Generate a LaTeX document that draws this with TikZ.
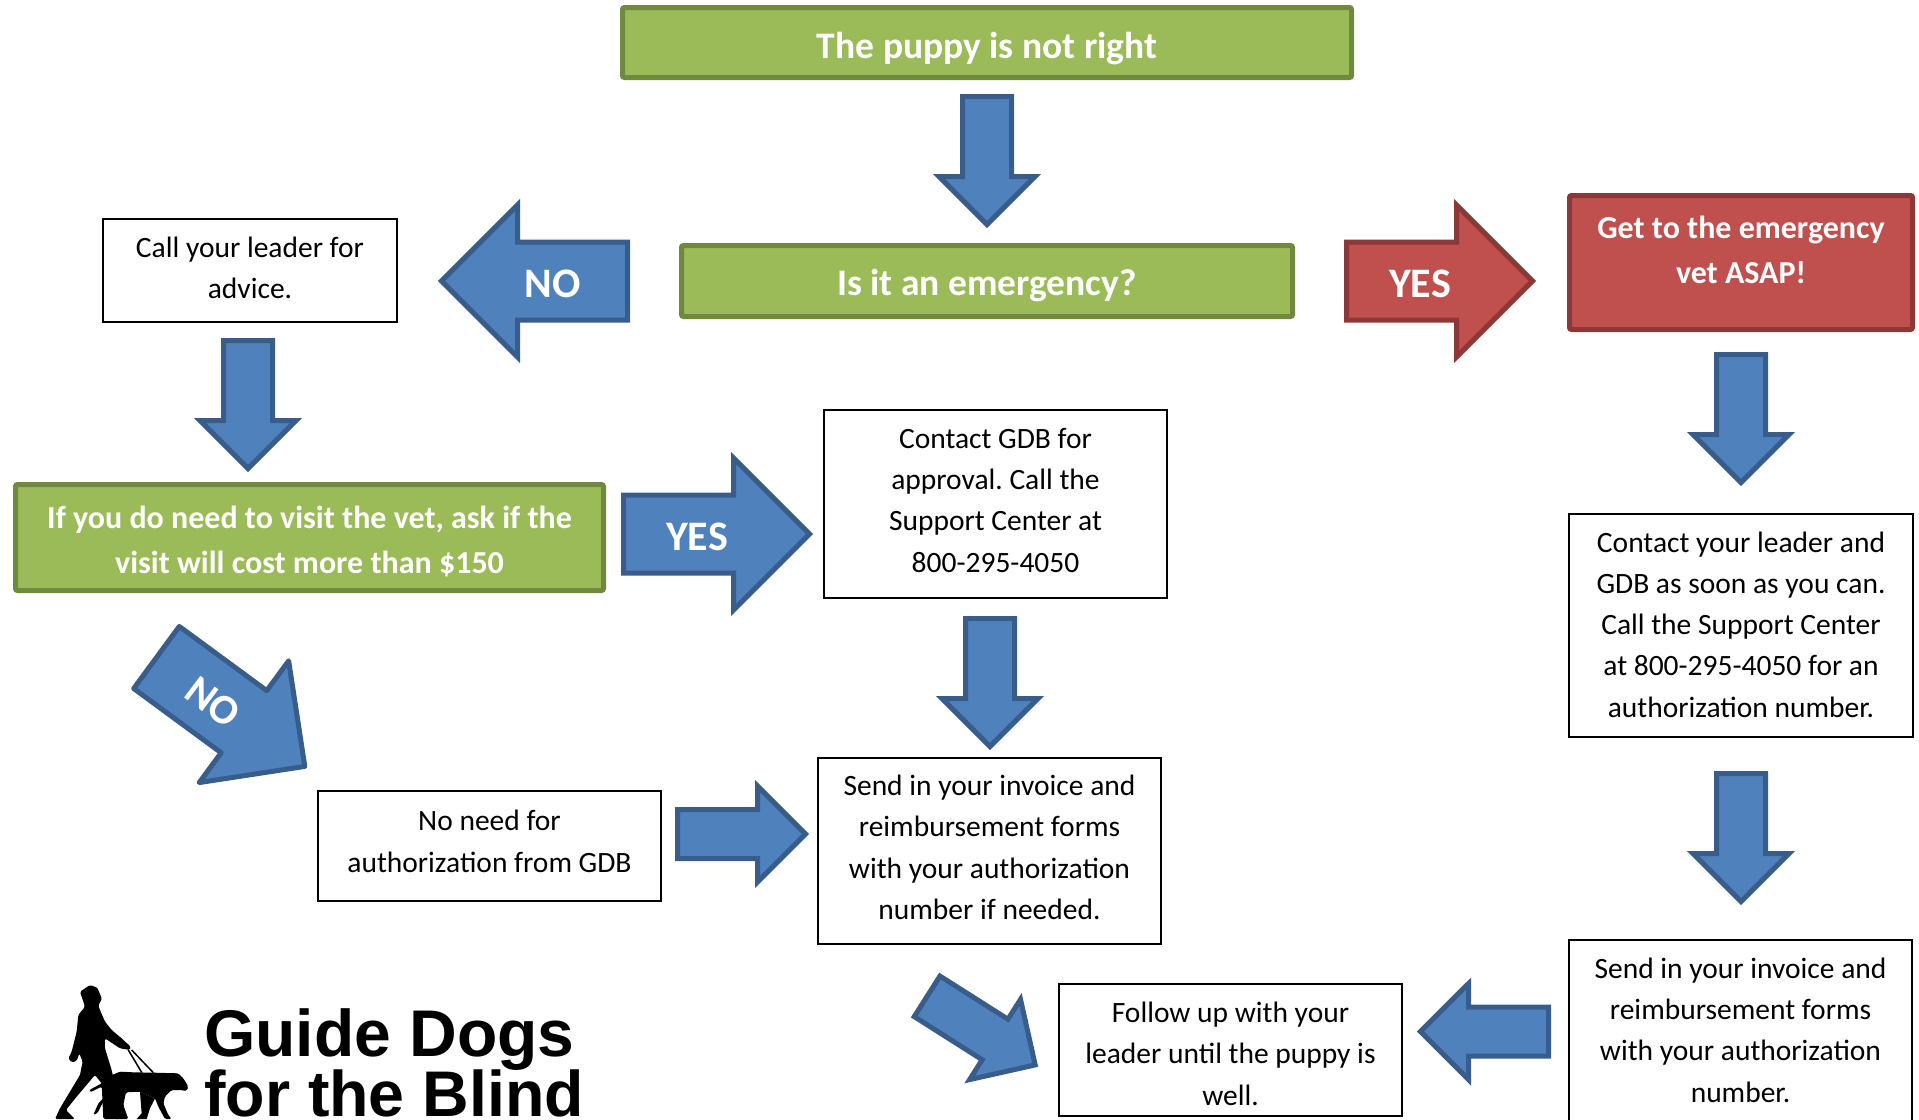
\documentclass[tikz,border=0pt]{standalone}
\usepackage{fontspec}
\setmainfont{Carlito}
\newfontfamily\logofont{Liberation Sans}
\usetikzlibrary{positioning, shapes.arrows}

\definecolor{bluefill}{HTML}{4F81BD}
\definecolor{blueline}{HTML}{385D8A}
\definecolor{greenfill}{HTML}{9BBB59}
\definecolor{greenline}{HTML}{71893F}
\definecolor{redfill}{HTML}{C0504D}
\definecolor{redline}{HTML}{8C3836}

\begin{document}
\frenchspacing
\begin{tikzpicture}[
  x=1pt, y=-1pt,
  plain/.style={draw, line width=2pt, inner sep=0pt},
  plaintxt/.style={align=center, inner sep=0pt, font=\fontsize{29.5}{41.3}\selectfont},
  green/.style={draw=greenline, fill=greenfill, line width=5pt, rounded corners=2pt, inner sep=0pt},
  redbox/.style={green, draw=redline, fill=redfill},
  boldtxt/.style={align=center, inner sep=0pt, text=white, font=\fontsize{32}{45}\selectfont\bfseries},
  bigtxt/.style={boldtxt, font=\fontsize{37.5}{45}\selectfont\bfseries},
  arrowtxt/.style={boldtxt, font=\fontsize{42}{45}\selectfont\bfseries},
  barrow/.style={single arrow, single arrow tip angle=90, single arrow head indent=0pt, inner sep=0pt, line width=5pt, miter limit=10, draw=blueline, fill=bluefill, anchor=tail},
  smallarrow/.style={barrow, inner ysep=22pt, minimum height=128pt, minimum width=91pt, single arrow head extend=23.5pt},
  bigarrow/.style={barrow, inner ysep=36.5pt, minimum height=186pt, minimum width=147pt, single arrow head extend=37pt},
  redarrow/.style={bigarrow, draw=redline, fill=redfill}
]
\useasboundingbox (0,0) rectangle (1919,1119);
\clip (0,0) rectangle (1919,1119);

\node[green, minimum width=729pt, minimum height=70pt] (puppy) at (987,42.5) {};
\node[green, minimum width=611pt, minimum height=71pt] (emerg) at (987,281) {};
\node[redbox, minimum width=343pt, minimum height=134pt] (vet) at (1741,262.5) {};
\node[green, minimum width=588pt, minimum height=106pt] (ifvet) at (309.5,537.5) {};
\node[plain, minimum width=294pt, minimum height=103pt] (call) at (250,270.5) {};
\node[plain, minimum width=343pt, minimum height=188pt] (gdb) at (995.5,504) {};
\node[plain, minimum width=344pt, minimum height=223pt] (leader) at (1741,625.5) {};
\node[plain, minimum width=343pt, minimum height=110pt] (noneed) at (489.5,846) {};
\node[plain, minimum width=343pt, minimum height=186pt] (send) at (989.5,851) {};
\node[plain, minimum width=343pt, minimum height=183pt] (sendb) at (1740.5,1031.5) {};
\node[plain, minimum width=343pt, minimum height=132pt] (follow) at (1230.5,1050) {};

% texts
\node[bigtxt] (puppytxt) at (987,48.5) {The puppy is not right};
\node[bigtxt] (emergtxt) at (987,285.5) {Is it an emergency?};
\node[boldtxt] (vettxt) at (1741,250) {Get to the emergency\\vet ASAP!};
\node[boldtxt] (ifvettxt) at (309.5,541) {If you do need to visit the vet, ask if the\\visit will cost more than \$150};
\node[plaintxt] (calltxt) at (250,268) {Call your leader for\\advice.};
\node[plaintxt] (gdbtxt) at (995.5,500.3) {Contact GDB for\\approval. Call the\\Support Center at\\800-295-4050};
\node[plaintxt] (leadertxt) at (1741,624.5) {Contact your leader and\\GDB as soon as you can.\\Call the Support Center\\at 800-295-4050 for an\\authorization number.};
\node[plaintxt] (noneedtxt) at (489.5,841.5) {No need for\\authorization from GDB};
\node[plaintxt] (sendtxt) at (989.5,847.5) {Send in your invoice and\\reimbursement forms\\with your authorization\\number if needed.};
\node[plaintxt] (sendbtxt) at (1740.5,1030) {Send in your invoice and\\reimbursement forms\\with your authorization\\number.};
\node[plaintxt] (followtxt) at (1230.5,1053.7) {Follow up with your\\leader until the puppy is\\well.};

% block arrows
\node[smallarrow, below=14pt of puppy.south, anchor=tail, rotate=-90] (a1) {};
\node[bigarrow, left=49pt of emerg.west, anchor=tail, rotate=180] (a2) {};
\node[redarrow, right=49pt of emerg.east, anchor=tail] (a3) {};
\node[smallarrow, below=20pt of vet.south, anchor=tail, rotate=-90] (a4) {};
\node[smallarrow, below=33pt of leader.south, anchor=tail, rotate=-90] (a5) {};
\node[smallarrow, left=17pt of sendb.west, anchor=tail, rotate=180] (a6) {};
\node[smallarrow, below=15pt of call.south, anchor=tail, xshift=-2pt, rotate=-90] (a7) {};
\node[bigarrow, right=15pt of ifvet.east, anchor=tail, yshift=3.5pt] (a8) {};
\node[smallarrow, below=17pt of gdb.south, anchor=tail, xshift=-5.5pt, rotate=-90] (a9) {};
\node[smallarrow, right=13pt of noneed.east, anchor=tail, yshift=12pt] (a10) {};
\node[bigarrow, inner ysep=36pt, minimum height=184pt, minimum width=146pt, single arrow head extend=37pt, line join=round, rotate=-36.3] (a11) at (154.5,656) {};
\node[smallarrow, inner ysep=21.5pt, rotate=-32.4] (a12) at (925,995) {};

\node[arrowtxt] (no1) at (553,284) {NO};
\node[arrowtxt] (yes1) at (1420,284) {YES};
\node[arrowtxt] (yes2) at (697,537) {YES};
\node[arrowtxt, rotate=-37] (no2) at (213,702) {NO};

% logo
\node[anchor=base west, inner sep=0pt, font=\fontsize{66}{66}\logofont\bfseries] (guide) at (204,1056) {Guide Dogs};
\node[anchor=base west, inner sep=0pt, font=\fontsize{64.5}{66}\logofont\bfseries] (blind) at (204,1116) {for the Blind};
\begin{scope}[shift={(40,975)}, x=0.3333pt, y=-0.3333pt]
  \fill[black, rounded corners=1.5pt] (150,30) -- (172,38) -- (182,62) -- (186,72) -- (180,82) -- (175,92) -- (180,105) -- (195,140) -- (215,165) -- (245,190) -- (272,215) -- (270,225) -- (240,220) -- (195,190) -- (195,220) -- (215,285) -- (225,330) -- (215,380) -- (240,432) -- (190,432) -- (185,325) -- (165,300) -- (110,365) -- (78,405) -- (105,432) -- (45,432) -- (60,400) -- (90,350) -- (120,300) -- (128,260) -- (118,235) -- (110,258) -- (95,262) -- (85,250) -- (95,230) -- (110,170) -- (115,120) -- (135,95) -- (125,65) -- (120,50) -- cycle;
  \fill[black, rounded corners=1.5pt] (205,305) -- (240,290) -- (280,292) -- (340,293) -- (415,295) -- (430,310) -- (445,335) -- (440,348) -- (420,345) -- (395,345) -- (375,365) -- (370,385) -- (385,420) -- (395,432) -- (375,432) -- (355,395) -- (345,370) -- (300,350) -- (258,352) -- (250,390) -- (265,432) -- (225,432) -- (205,385) -- (190,380) -- (172,415) -- (160,420) -- (175,385) -- (195,365) -- (185,335) -- (150,352) -- (148,345) -- (185,325) -- cycle;
  \fill[black] (300,350) -- (305,415) -- (290,432) -- (320,432) -- (330,400) -- (345,370) -- cycle;
  \draw[black, line width=1.5pt] (265,225) -- (305,292) (275,225) -- (340,293);
\end{scope}
\end{tikzpicture}
\end{document}
